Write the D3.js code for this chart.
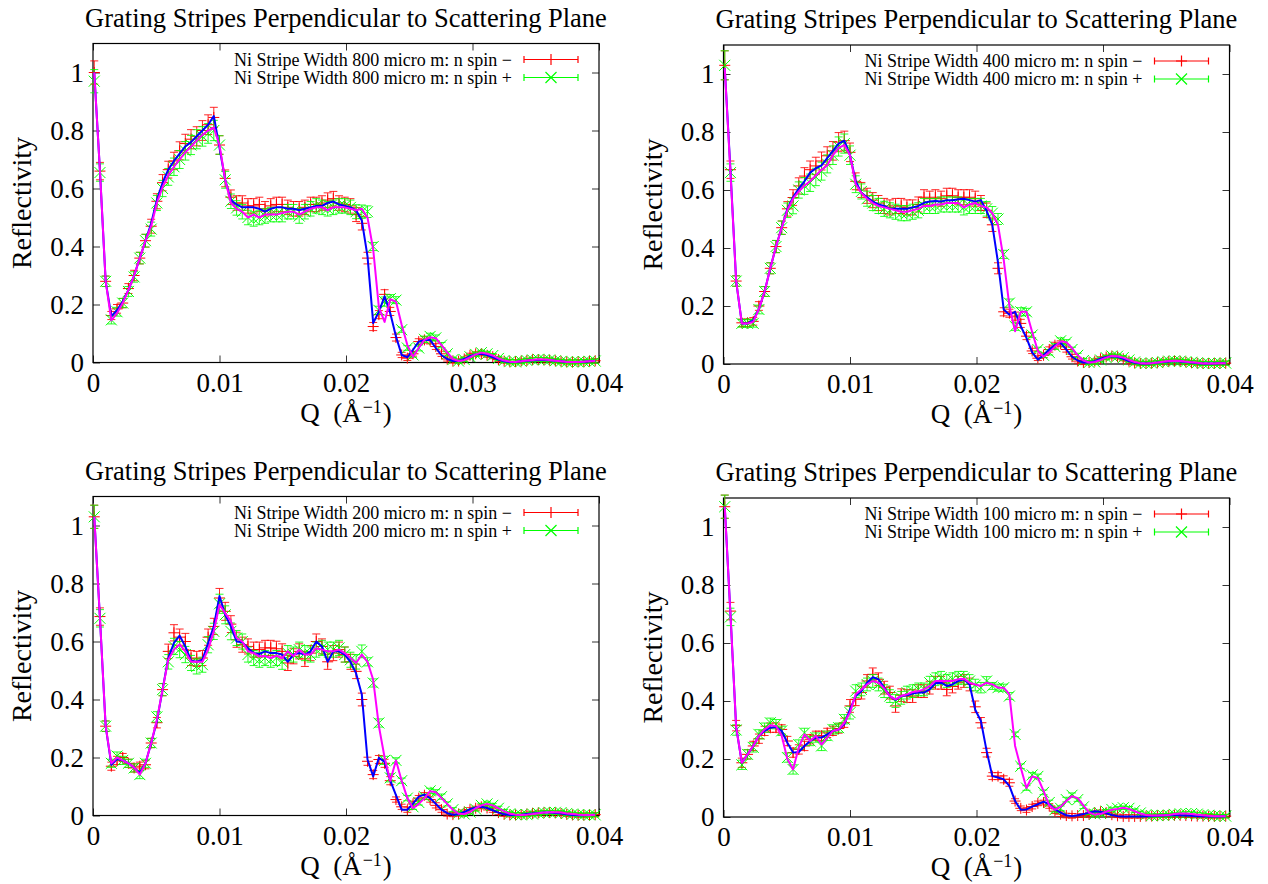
<!DOCTYPE html>
<html lang="en">
<head>
<meta charset="UTF-8">
<script src="https://cdn.jsdelivr.net/npm/d3@7"></script>
<style>
  body { margin: 0; background: #fff; }
  text { font-family: "Liberation Serif", "Times New Roman", serif; fill: #000; }
</style>
<title>Grating Stripes Perpendicular to Scattering Plane</title>
</head>
<body>
<svg id="chart" width="1268" height="884"></svg>
<script>
// Q values (1/Angstrom) shared by every panel
const qValues = [
  0.0001, 0.00055, 0.001, 0.00145, 0.0019, 0.00235, 0.0028, 0.00325, 0.0037, 0.00415,
  0.0046, 0.00505, 0.0055, 0.00595, 0.0064, 0.00685, 0.0073, 0.00775, 0.0082, 0.00865,
  0.0091, 0.00955, 0.01, 0.01045, 0.0109, 0.01135, 0.0118, 0.01225, 0.0127, 0.01315,
  0.0136, 0.01405, 0.0145, 0.01495, 0.0154, 0.01585, 0.0163, 0.01675, 0.0172, 0.01765,
  0.0181, 0.01855, 0.019, 0.01945, 0.0199, 0.02035, 0.0208, 0.02125, 0.0217, 0.02215,
  0.0226, 0.02305, 0.0235, 0.02395, 0.0244, 0.02485, 0.0253, 0.02575, 0.0262, 0.02665,
  0.0271, 0.02755, 0.028, 0.02845, 0.0289, 0.02935, 0.0298, 0.03025, 0.0307, 0.03115,
  0.0316, 0.03205, 0.0325, 0.03295, 0.0334, 0.03385, 0.0343, 0.03475, 0.0352, 0.03565,
  0.0361, 0.03655, 0.037, 0.03745, 0.0379, 0.03835, 0.0388, 0.03925, 0.0397
];
const xTicks = [0, 0.01, 0.02, 0.03, 0.04];
const yTicks = [0, 0.2, 0.4, 0.6, 0.8, 1];
const titleText = 'Grating Stripes Perpendicular to Scattering Plane';
const stripeWidths = [800, 400, 200, 100];
const spinLabels = ['n spin \u2212', 'n spin +'];

// 800 micro m
const minus800 = [
  1.00, 0.66, 0.28, 0.162, 0.185, 0.205, 0.255, 0.30, 0.36, 0.42,
  0.47, 0.556, 0.62, 0.665, 0.695, 0.73, 0.755, 0.77, 0.78, 0.80,
  0.82, 0.845, 0.75, 0.635, 0.57, 0.55, 0.55, 0.54, 0.54, 0.545,
  0.53, 0.54, 0.545, 0.545, 0.535, 0.53, 0.53, 0.535, 0.545, 0.545,
  0.55, 0.56, 0.565, 0.55, 0.545, 0.54, 0.51, 0.48, 0.36, 0.124,
  0.165, 0.235, 0.176, 0.086, 0.026, 0.015, 0.03, 0.072, 0.078, 0.075,
  0.055, 0.03, 0.012, 0.005, 0.005, 0.012, 0.025, 0.03, 0.03, 0.025,
  0.02, 0.01, 0.005, 0.003, 0.003, 0.005, 0.007, 0.01, 0.01, 0.009,
  0.008, 0.006, 0.004, 0.002, 0.002, 0.003, 0.003, 0.005, 0.006
];
const plus800 = [
  0.97, 0.655, 0.28, 0.147, 0.175, 0.205, 0.245, 0.295, 0.36, 0.42,
  0.46, 0.55, 0.60, 0.64, 0.675, 0.70, 0.73, 0.75, 0.77, 0.78,
  0.79, 0.80, 0.75, 0.63, 0.556, 0.533, 0.52, 0.50, 0.495, 0.50,
  0.505, 0.51, 0.51, 0.51, 0.52, 0.52, 0.505, 0.52, 0.53, 0.54,
  0.535, 0.53, 0.535, 0.54, 0.54, 0.535, 0.52, 0.52, 0.52, 0.40,
  0.18, 0.21, 0.22, 0.215, 0.113, 0.05, 0.026, 0.05, 0.08, 0.09,
  0.085, 0.06, 0.03, 0.01, 0.005, 0.01, 0.02, 0.028, 0.034, 0.03,
  0.024, 0.014, 0.007, 0.003, 0.002, 0.004, 0.007, 0.009, 0.011, 0.01,
  0.009, 0.006, 0.004, 0.002, 0.002, 0.002, 0.003, 0.004, 0.005
];
const fitMinus800 = [
  1.00, 0.66, 0.28, 0.16, 0.18, 0.21, 0.25, 0.30, 0.36, 0.42,
  0.48, 0.56, 0.62, 0.665, 0.695, 0.72, 0.745, 0.76, 0.78, 0.80,
  0.82, 0.85, 0.74, 0.63, 0.56, 0.545, 0.535, 0.535, 0.535, 0.53,
  0.52, 0.53, 0.535, 0.535, 0.53, 0.53, 0.525, 0.53, 0.535, 0.54,
  0.54, 0.55, 0.555, 0.545, 0.54, 0.535, 0.525, 0.49, 0.366, 0.136,
  0.175, 0.228, 0.17, 0.09, 0.026, 0.018, 0.044, 0.072, 0.078, 0.078,
  0.05, 0.025, 0.012, 0.005, 0.005, 0.012, 0.022, 0.028, 0.03, 0.026,
  0.018, 0.01, 0.004, 0.002, 0.002, 0.004, 0.006, 0.008, 0.009, 0.009,
  0.008, 0.006, 0.004, 0.002, 0.002, 0.002, 0.003, 0.004, 0.006
];
const fitPlus800 = [
  1.00, 0.66, 0.28, 0.145, 0.17, 0.205, 0.25, 0.30, 0.36, 0.42,
  0.47, 0.55, 0.605, 0.645, 0.675, 0.70, 0.725, 0.745, 0.765, 0.785,
  0.80, 0.81, 0.75, 0.63, 0.55, 0.53, 0.52, 0.50, 0.51, 0.50,
  0.51, 0.51, 0.51, 0.515, 0.52, 0.52, 0.51, 0.52, 0.53, 0.535,
  0.535, 0.525, 0.535, 0.535, 0.535, 0.53, 0.525, 0.53, 0.50, 0.39,
  0.19, 0.14, 0.218, 0.21, 0.13, 0.06, 0.02, 0.05, 0.078, 0.087,
  0.084, 0.06, 0.035, 0.012, 0.005, 0.008, 0.018, 0.028, 0.034, 0.03,
  0.024, 0.014, 0.007, 0.003, 0.002, 0.004, 0.007, 0.009, 0.011, 0.01,
  0.009, 0.006, 0.004, 0.002, 0.002, 0.002, 0.003, 0.004, 0.005
];
const err800 = [
  0.04, 0.03, 0.018, 0.014, 0.015, 0.016, 0.017, 0.018, 0.02, 0.022,
  0.024, 0.026, 0.028, 0.029, 0.03, 0.031, 0.032, 0.033, 0.033, 0.034,
  0.034, 0.035, 0.032, 0.029, 0.025, 0.025, 0.025, 0.025, 0.025, 0.025,
  0.025, 0.025, 0.025, 0.025, 0.025, 0.025, 0.025, 0.025, 0.025, 0.025,
  0.025, 0.025, 0.025, 0.025, 0.025, 0.025, 0.024, 0.023, 0.02, 0.014,
  0.014, 0.016, 0.014, 0.012, 0.009, 0.008, 0.008, 0.01, 0.011, 0.011,
  0.01, 0.009, 0.007, 0.007, 0.007, 0.007, 0.007, 0.007, 0.007, 0.007,
  0.007, 0.007, 0.007, 0.007, 0.007, 0.007, 0.007, 0.007, 0.007, 0.007,
  0.007, 0.007, 0.007, 0.007, 0.007, 0.007, 0.007, 0.007, 0.007
];

// 400 micro m
const minus400 = [
  1.03, 0.67, 0.286, 0.142, 0.142, 0.147, 0.20, 0.25, 0.33, 0.405,
  0.47, 0.535, 0.574, 0.614, 0.648, 0.67, 0.683, 0.70, 0.718, 0.735,
  0.765, 0.77, 0.73, 0.63, 0.60, 0.58, 0.565, 0.555, 0.545, 0.54,
  0.545, 0.545, 0.54, 0.54, 0.55, 0.575, 0.57, 0.575, 0.57, 0.58,
  0.58, 0.575, 0.575, 0.575, 0.57, 0.555, 0.53, 0.48, 0.33, 0.18,
  0.175, 0.165, 0.14, 0.096, 0.045, 0.02, 0.03, 0.05, 0.065, 0.07,
  0.05, 0.025, 0.01, 0.005, 0.005, 0.01, 0.018, 0.024, 0.027, 0.025,
  0.018, 0.01, 0.004, 0.002, 0.002, 0.003, 0.005, 0.007, 0.009, 0.01,
  0.009, 0.007, 0.005, 0.003, 0.002, 0.002, 0.002, 0.003, 0.003
];
const plus400 = [
  1.03, 0.66, 0.286, 0.14, 0.14, 0.14, 0.188, 0.25, 0.33, 0.405,
  0.47, 0.53, 0.545, 0.60, 0.614, 0.625, 0.645, 0.665, 0.69, 0.72,
  0.75, 0.76, 0.72, 0.62, 0.595, 0.57, 0.555, 0.545, 0.535, 0.53,
  0.525, 0.52, 0.52, 0.525, 0.53, 0.545, 0.545, 0.545, 0.55, 0.55,
  0.55, 0.55, 0.54, 0.545, 0.545, 0.545, 0.535, 0.52, 0.50, 0.378,
  0.21, 0.13, 0.18, 0.18, 0.10, 0.05, 0.03, 0.04, 0.06, 0.08,
  0.075, 0.05, 0.03, 0.012, 0.005, 0.007, 0.014, 0.022, 0.028, 0.027,
  0.022, 0.014, 0.007, 0.003, 0.002, 0.003, 0.005, 0.008, 0.01, 0.011,
  0.01, 0.008, 0.006, 0.004, 0.002, 0.002, 0.002, 0.003, 0.003
];
const fitMinus400 = [
  1.02, 0.67, 0.286, 0.14, 0.14, 0.15, 0.19, 0.25, 0.33, 0.405,
  0.47, 0.535, 0.575, 0.605, 0.63, 0.66, 0.675, 0.685, 0.71, 0.735,
  0.76, 0.77, 0.72, 0.63, 0.59, 0.575, 0.56, 0.55, 0.545, 0.535,
  0.535, 0.535, 0.535, 0.54, 0.545, 0.556, 0.56, 0.562, 0.56, 0.565,
  0.565, 0.568, 0.57, 0.565, 0.56, 0.565, 0.528, 0.48, 0.35, 0.188,
  0.17, 0.18, 0.13, 0.09, 0.04, 0.015, 0.03, 0.05, 0.065, 0.073,
  0.05, 0.025, 0.012, 0.005, 0.005, 0.01, 0.018, 0.024, 0.027, 0.025,
  0.018, 0.01, 0.004, 0.002, 0.002, 0.003, 0.005, 0.007, 0.009, 0.01,
  0.009, 0.007, 0.005, 0.003, 0.002, 0.002, 0.002, 0.003, 0.003
];
const fitPlus400 = [
  1.02, 0.66, 0.286, 0.14, 0.14, 0.145, 0.19, 0.25, 0.33, 0.405,
  0.47, 0.53, 0.57, 0.595, 0.615, 0.63, 0.65, 0.67, 0.685, 0.72,
  0.745, 0.755, 0.72, 0.62, 0.59, 0.57, 0.555, 0.545, 0.54, 0.535,
  0.53, 0.525, 0.525, 0.53, 0.535, 0.545, 0.545, 0.55, 0.55, 0.555,
  0.555, 0.555, 0.54, 0.55, 0.555, 0.545, 0.54, 0.52, 0.48, 0.36,
  0.20, 0.113, 0.18, 0.18, 0.11, 0.045, 0.025, 0.04, 0.06, 0.078,
  0.075, 0.055, 0.03, 0.012, 0.005, 0.007, 0.014, 0.022, 0.028, 0.027,
  0.022, 0.014, 0.007, 0.003, 0.002, 0.003, 0.005, 0.008, 0.01, 0.011,
  0.01, 0.008, 0.006, 0.004, 0.002, 0.002, 0.002, 0.003, 0.003
];
const err400 = [
  0.05, 0.03, 0.018, 0.013, 0.013, 0.013, 0.015, 0.017, 0.019, 0.021,
  0.023, 0.025, 0.027, 0.028, 0.029, 0.03, 0.03, 0.031, 0.031, 0.032,
  0.033, 0.033, 0.032, 0.029, 0.026, 0.026, 0.026, 0.026, 0.026, 0.026,
  0.026, 0.026, 0.026, 0.026, 0.026, 0.026, 0.026, 0.026, 0.026, 0.026,
  0.026, 0.026, 0.026, 0.026, 0.026, 0.026, 0.025, 0.023, 0.019, 0.014,
  0.014, 0.014, 0.014, 0.012, 0.009, 0.008, 0.008, 0.009, 0.01, 0.01,
  0.009, 0.008, 0.007, 0.007, 0.007, 0.007, 0.007, 0.007, 0.007, 0.007,
  0.007, 0.007, 0.007, 0.007, 0.007, 0.007, 0.007, 0.007, 0.007, 0.007,
  0.007, 0.007, 0.007, 0.007, 0.007, 0.007, 0.007, 0.007, 0.007
];

// 200 micro m
const minus200 = [
  1.03, 0.686, 0.308, 0.17, 0.19, 0.20, 0.18, 0.164, 0.17, 0.175,
  0.25, 0.32, 0.434, 0.566, 0.63, 0.615, 0.60, 0.543, 0.54, 0.543,
  0.615, 0.652, 0.75, 0.704, 0.66, 0.606, 0.589, 0.583, 0.572, 0.572,
  0.578, 0.578, 0.575, 0.566, 0.526, 0.549, 0.566, 0.54, 0.56, 0.60,
  0.583, 0.53, 0.56, 0.572, 0.555, 0.53, 0.497, 0.40, 0.187, 0.141,
  0.193, 0.18, 0.12, 0.055, 0.03, 0.02, 0.04, 0.06, 0.07, 0.055,
  0.035, 0.02, 0.005, 0.003, 0.005, 0.012, 0.02, 0.025, 0.03, 0.026,
  0.018, 0.01, 0.004, 0.002, 0.002, 0.003, 0.005, 0.007, 0.009, 0.01,
  0.01, 0.009, 0.007, 0.004, 0.002, 0.001, 0.001, 0.002, 0.003
];
const plus200 = [
  1.03, 0.68, 0.308, 0.18, 0.205, 0.19, 0.18, 0.164, 0.141, 0.18,
  0.25, 0.34, 0.434, 0.53, 0.583, 0.572, 0.555, 0.526, 0.514, 0.52,
  0.589, 0.635, 0.73, 0.692, 0.635, 0.612, 0.60, 0.555, 0.543, 0.537,
  0.543, 0.537, 0.543, 0.53, 0.56, 0.555, 0.572, 0.56, 0.555, 0.572,
  0.578, 0.572, 0.572, 0.578, 0.555, 0.537, 0.53, 0.566, 0.53, 0.457,
  0.319, 0.19, 0.13, 0.19, 0.12, 0.06, 0.03, 0.045, 0.065, 0.085,
  0.08, 0.065, 0.04, 0.02, 0.008, 0.005, 0.012, 0.022, 0.035, 0.04,
  0.035, 0.025, 0.014, 0.006, 0.003, 0.002, 0.003, 0.005, 0.008, 0.01,
  0.011, 0.011, 0.01, 0.007, 0.005, 0.003, 0.002, 0.002, 0.002
];
const fitMinus200 = [
  1.03, 0.68, 0.308, 0.175, 0.195, 0.19, 0.18, 0.165, 0.147, 0.18,
  0.25, 0.325, 0.434, 0.543, 0.595, 0.62, 0.583, 0.534, 0.53, 0.537,
  0.595, 0.652, 0.757, 0.692, 0.652, 0.60, 0.597, 0.577, 0.56, 0.557,
  0.566, 0.56, 0.56, 0.555, 0.53, 0.555, 0.56, 0.555, 0.566, 0.60,
  0.583, 0.53, 0.566, 0.566, 0.555, 0.53, 0.49, 0.417, 0.193, 0.135,
  0.199, 0.185, 0.12, 0.07, 0.02, 0.02, 0.041, 0.065, 0.072, 0.06,
  0.04, 0.02, 0.008, 0.003, 0.004, 0.012, 0.022, 0.028, 0.03, 0.026,
  0.018, 0.01, 0.004, 0.002, 0.002, 0.003, 0.005, 0.007, 0.009, 0.01,
  0.01, 0.009, 0.007, 0.004, 0.002, 0.001, 0.001, 0.002, 0.003
];
const fitPlus200 = [
  1.03, 0.68, 0.308, 0.18, 0.20, 0.19, 0.18, 0.165, 0.141, 0.18,
  0.25, 0.33, 0.434, 0.537, 0.572, 0.59, 0.566, 0.53, 0.53, 0.53,
  0.572, 0.635, 0.727, 0.698, 0.67, 0.612, 0.60, 0.566, 0.56, 0.549,
  0.55, 0.543, 0.551, 0.543, 0.566, 0.55, 0.572, 0.555, 0.555, 0.577,
  0.572, 0.566, 0.566, 0.572, 0.56, 0.543, 0.526, 0.555, 0.53, 0.468,
  0.308, 0.20, 0.12, 0.19, 0.12, 0.06, 0.025, 0.04, 0.06, 0.084,
  0.08, 0.06, 0.04, 0.02, 0.006, 0.005, 0.012, 0.025, 0.035, 0.04,
  0.035, 0.025, 0.014, 0.006, 0.003, 0.002, 0.003, 0.005, 0.008, 0.01,
  0.011, 0.011, 0.01, 0.007, 0.005, 0.003, 0.002, 0.002, 0.002
];
const err200 = [
  0.04, 0.03, 0.018, 0.014, 0.014, 0.014, 0.014, 0.014, 0.014, 0.014,
  0.016, 0.018, 0.021, 0.025, 0.028, 0.028, 0.028, 0.026, 0.026, 0.026,
  0.028, 0.028, 0.033, 0.031, 0.029, 0.026, 0.026, 0.026, 0.026, 0.026,
  0.026, 0.026, 0.026, 0.026, 0.026, 0.026, 0.026, 0.026, 0.026, 0.026,
  0.026, 0.026, 0.026, 0.026, 0.026, 0.026, 0.025, 0.022, 0.014, 0.014,
  0.014, 0.014, 0.014, 0.009, 0.009, 0.009, 0.009, 0.009, 0.009, 0.009,
  0.009, 0.009, 0.007, 0.007, 0.007, 0.007, 0.007, 0.007, 0.007, 0.007,
  0.007, 0.007, 0.007, 0.007, 0.007, 0.007, 0.007, 0.007, 0.007, 0.007,
  0.007, 0.007, 0.007, 0.007, 0.007, 0.007, 0.007, 0.007, 0.007
];

// 100 micro m
const minus100 = [
  1.07, 0.71, 0.315, 0.187, 0.216, 0.245, 0.27, 0.297, 0.308, 0.308,
  0.302, 0.262, 0.222, 0.233, 0.245, 0.268, 0.28, 0.28, 0.29, 0.297,
  0.305, 0.325, 0.383, 0.406, 0.429, 0.469, 0.492, 0.475, 0.446, 0.429,
  0.383, 0.42, 0.417, 0.417, 0.434, 0.434, 0.446, 0.463, 0.463, 0.44,
  0.45, 0.463, 0.469, 0.457, 0.38, 0.325, 0.222, 0.141, 0.141, 0.13,
  0.118, 0.055, 0.03, 0.024, 0.036, 0.047, 0.05, 0.038, 0.02, 0.01,
  0.005, 0.004, 0.005, 0.005, 0.009, 0.015, 0.018, 0.015, 0.008, 0.004,
  0.002, 0.002, 0.002, 0.002, 0.003, 0.003, 0.004, 0.005, 0.006, 0.006,
  0.006, 0.005, 0.004, 0.003, 0.003, 0.002, 0.002, 0.002, 0.003
];
const plus100 = [
  1.07, 0.69, 0.30, 0.18, 0.216, 0.24, 0.285, 0.308, 0.325, 0.32,
  0.297, 0.205, 0.164, 0.25, 0.29, 0.262, 0.274, 0.245, 0.28, 0.302,
  0.308, 0.337, 0.36, 0.434, 0.44, 0.457, 0.469, 0.457, 0.434, 0.417,
  0.40, 0.411, 0.429, 0.434, 0.44, 0.44, 0.463, 0.475, 0.48, 0.469,
  0.475, 0.48, 0.48, 0.469, 0.455, 0.446, 0.469, 0.452, 0.446, 0.446,
  0.417, 0.285, 0.175, 0.10, 0.145, 0.14, 0.085, 0.05, 0.025, 0.03,
  0.06, 0.075, 0.06, 0.035, 0.015, 0.01, 0.012, 0.02, 0.026, 0.03,
  0.032, 0.03, 0.022, 0.014, 0.008, 0.005, 0.005, 0.006, 0.007, 0.009,
  0.011, 0.012, 0.012, 0.01, 0.008, 0.006, 0.004, 0.003, 0.003
];
const fitMinus100 = [
  1.07, 0.70, 0.31, 0.187, 0.216, 0.245, 0.28, 0.297, 0.308, 0.31,
  0.297, 0.256, 0.222, 0.224, 0.245, 0.262, 0.274, 0.274, 0.285, 0.297,
  0.302, 0.32, 0.371, 0.417, 0.434, 0.463, 0.482, 0.475, 0.446, 0.417,
  0.404, 0.417, 0.42, 0.426, 0.429, 0.429, 0.44, 0.461, 0.463, 0.452,
  0.457, 0.469, 0.475, 0.457, 0.37, 0.331, 0.228, 0.141, 0.136, 0.13,
  0.107, 0.055, 0.025, 0.026, 0.036, 0.044, 0.053, 0.044, 0.026, 0.015,
  0.006, 0.003, 0.006, 0.01, 0.015, 0.02, 0.018, 0.013, 0.007, 0.003,
  0.002, 0.002, 0.002, 0.002, 0.003, 0.003, 0.004, 0.005, 0.006, 0.006,
  0.006, 0.005, 0.004, 0.003, 0.003, 0.002, 0.002, 0.002, 0.003
];
const fitPlus100 = [
  1.07, 0.70, 0.31, 0.187, 0.216, 0.245, 0.28, 0.302, 0.316, 0.314,
  0.28, 0.20, 0.164, 0.24, 0.285, 0.262, 0.28, 0.25, 0.274, 0.297,
  0.302, 0.325, 0.36, 0.423, 0.44, 0.457, 0.469, 0.463, 0.443, 0.417,
  0.406, 0.417, 0.423, 0.431, 0.434, 0.44, 0.452, 0.469, 0.469, 0.469,
  0.469, 0.475, 0.477, 0.463, 0.457, 0.452, 0.463, 0.457, 0.446, 0.446,
  0.423, 0.245, 0.17, 0.10, 0.14, 0.135, 0.09, 0.04, 0.025, 0.035,
  0.055, 0.072, 0.065, 0.04, 0.015, 0.008, 0.01, 0.018, 0.025, 0.028,
  0.032, 0.028, 0.02, 0.012, 0.007, 0.005, 0.005, 0.006, 0.007, 0.01,
  0.012, 0.012, 0.01, 0.008, 0.006, 0.004, 0.003, 0.003, 0.003
];
const err100 = [
  0.04, 0.03, 0.018, 0.016, 0.016, 0.016, 0.016, 0.016, 0.016, 0.016,
  0.016, 0.016, 0.016, 0.016, 0.016, 0.016, 0.016, 0.016, 0.016, 0.016,
  0.016, 0.016, 0.022, 0.022, 0.022, 0.022, 0.022, 0.022, 0.022, 0.022,
  0.022, 0.022, 0.022, 0.022, 0.022, 0.022, 0.022, 0.022, 0.022, 0.022,
  0.022, 0.022, 0.022, 0.022, 0.02, 0.018, 0.015, 0.012, 0.012, 0.012,
  0.012, 0.008, 0.008, 0.008, 0.008, 0.008, 0.008, 0.008, 0.008, 0.008,
  0.008, 0.008, 0.006, 0.006, 0.006, 0.006, 0.006, 0.006, 0.006, 0.006,
  0.006, 0.006, 0.006, 0.006, 0.006, 0.006, 0.006, 0.006, 0.006, 0.006,
  0.006, 0.006, 0.006, 0.006, 0.006, 0.006, 0.006, 0.006, 0.006
];

const panels = [
  {width: stripeWidths[0], minus: minus800, plus: plus800, fitMinus: fitMinus800, fitPlus: fitPlus800, err: err800},
  {width: stripeWidths[1], minus: minus400, plus: plus400, fitMinus: fitMinus400, fitPlus: fitPlus400, err: err400},
  {width: stripeWidths[2], minus: minus200, plus: plus200, fitMinus: fitMinus200, fitPlus: fitPlus200, err: err200},
  {width: stripeWidths[3], minus: minus100, plus: plus100, fitMinus: fitMinus100, fitPlus: fitPlus100, err: err100}
];

// layout
const origins = [[93, 43.5], [723.5, 45], [93, 496.5], [723.5, 498]];
const W = 506, H = 319;
const red = '#ff0000', green = '#00ff00', blue = '#0000ff', magenta = '#ff00ff';

const x = d3.scaleLinear().domain([0, 0.04]).range([0, W]);
const y = d3.scaleLinear().domain([0, 1.1]).range([H, 0]);

const plusShape = s => `M${-s},0H${s}M0,${-s}V${s}`;
const crossShape = s => `M${-s},${-s}L${s},${s}M${-s},${s}L${s},${-s}`;

const svg = d3.select('#chart');

function styleAxis(a) {
  a.select('.domain').remove();
  a.attr('font-family', null).attr('font-size', null);
  a.selectAll('.tick line').attr('stroke', '#333');
  a.selectAll('.tick text').style('font-size', '27px');
}

function drawPoints(g, vals, err, color, shape) {
  const pts = qValues.map((q, i) => ({q, v: vals[i], e: err[i]})).filter(d => d.v != null);
  const grp = g.append('g').attr('stroke', color).attr('fill', 'none').attr('stroke-width', 1);
  grp.selectAll('path.bar').data(pts).join('path').attr('class', 'bar')
    .attr('stroke-opacity', 0.85)
    .attr('d', d => {
      const cx = x(d.q), y0 = y(d.v - d.e), y1 = y(d.v + d.e);
      return `M${cx},${y0}V${y1}M${cx - 4},${y1}H${cx + 4}M${cx - 4},${y0}H${cx + 4}`;
    });
  grp.selectAll('path.mk').data(pts).join('path').attr('class', 'mk')
    .attr('transform', d => `translate(${x(d.q)},${y(d.v)})`)
    .attr('d', shape(5.5));
}

function drawFit(g, vals, color) {
  const line = d3.line().x((d, i) => x(qValues[i])).y(d => y(d));
  g.append('path').datum(vals).attr('d', line)
    .attr('fill', 'none').attr('stroke', color).attr('stroke-width', 2)
    .attr('stroke-linejoin', 'round');
}

// "Q  (Å^-1)" built from three side by side pieces
function xAxisTitle(g) {
  const t = g.append('g');
  const main = t.append('text').attr('y', H + 59).style('font-size', '27px').text('Q\u00a0\u00a0(\u00c5');
  const sup = t.append('text').attr('y', H + 50).style('font-size', '18px').text('\u22121');
  const close = t.append('text').attr('y', H + 59).style('font-size', '27px').text(')');
  const w1 = main.node().getComputedTextLength();
  const w2 = sup.node().getComputedTextLength();
  const w3 = close.node().getComputedTextLength();
  const x0 = W / 2 - (w1 + w2 + w3 + 2) / 2;
  main.attr('x', x0);
  sup.attr('x', x0 + w1 + 1);
  close.attr('x', x0 + w1 + w2 + 2);
}

panels.forEach((p, k) => {
  const g = svg.append('g').attr('transform', `translate(${origins[k]})`);

  g.append('text').attr('x', W / 2).attr('y', -17).attr('text-anchor', 'middle')
    .style('font-size', '26.5px').text(titleText);

  g.append('g').attr('transform', `translate(0,${H})`)
    .call(d3.axisBottom(x).tickValues(xTicks).tickSize(-7).tickPadding(10).tickFormat(d => String(d)))
    .call(styleAxis);
  g.append('g')
    .call(d3.axisLeft(y).tickValues(yTicks).tickSize(-7).tickPadding(9).tickFormat(d => String(d)))
    .call(styleAxis);
  g.append('g')
    .call(d3.axisTop(x).tickValues(xTicks).tickSize(-7).tickFormat(''))
    .call(styleAxis);
  g.append('g').attr('transform', `translate(${W},0)`)
    .call(d3.axisRight(y).tickValues(yTicks).tickSize(-7).tickFormat(''))
    .call(styleAxis);

  g.append('rect').attr('width', W).attr('height', H)
    .attr('fill', 'none').attr('stroke', '#000').attr('stroke-width', 1.2);

  drawPoints(g, p.minus, p.err, red, plusShape);
  drawPoints(g, p.plus, p.err, green, crossShape);
  drawFit(g, p.fitMinus, blue);
  drawFit(g, p.fitPlus, magenta);

  // legend
  [[red, plusShape], [green, crossShape]].forEach(([color, shape], r) => {
    const cy = 16 + r * 18;
    g.append('text').attr('x', W - 87).attr('y', cy).attr('dy', '0.35em')
      .attr('text-anchor', 'end').style('font-size', '18px')
      .text(`Ni Stripe Width ${p.width} micro m: ${spinLabels[r]}`);
    g.append('path')
      .attr('d', `M${W - 75},${cy}H${W - 21}M${W - 75},${cy - 3.5}V${cy + 3.5}M${W - 21},${cy - 3.5}V${cy + 3.5}`)
      .attr('stroke', color).attr('stroke-width', 1.2).attr('fill', 'none');
    g.append('path').attr('transform', `translate(${W - 48},${cy})`)
      .attr('d', shape(5.5)).attr('stroke', color).attr('stroke-width', 1.2).attr('fill', 'none');
  });

  xAxisTitle(g);

  g.append('text').attr('transform', `translate(-62,${H / 2}) rotate(-90)`)
    .attr('text-anchor', 'middle').style('font-size', '28px').text('Reflectivity');
});
</script>
</body>
</html>
